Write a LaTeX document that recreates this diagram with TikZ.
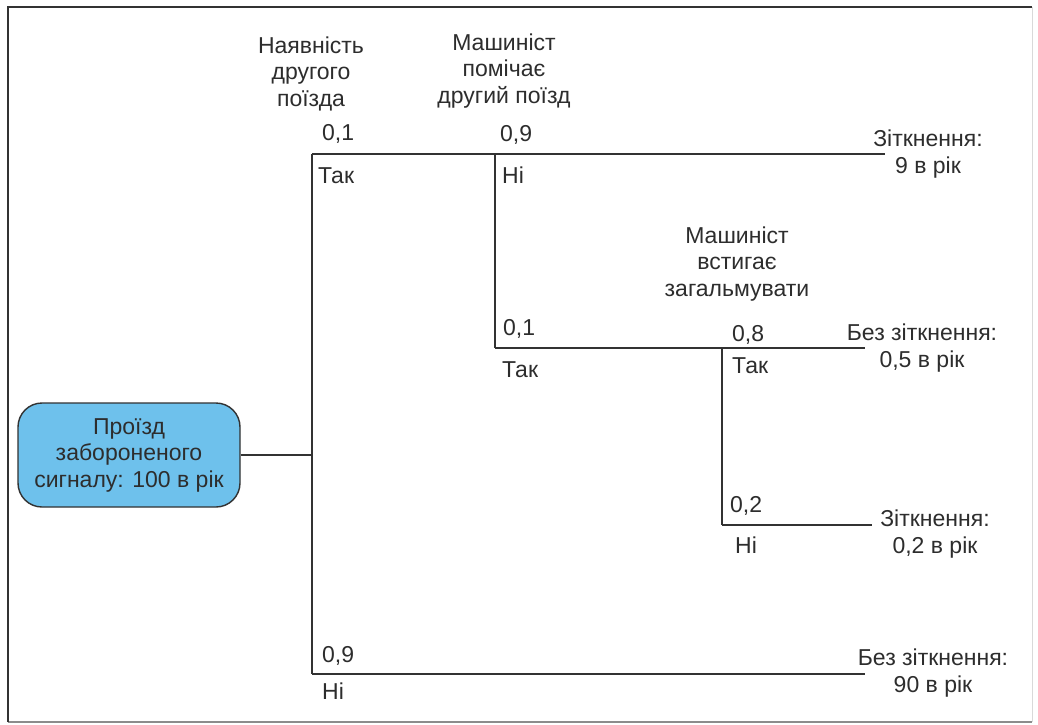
\documentclass[tikz,border=0pt]{standalone}
\usepackage{fontspec}
\setmainfont{Liberation Sans}
\begin{document}
\begin{tikzpicture}[x=1pt,y=-1pt,
  txt/.style={inner sep=0pt,text=ink,font=\fontsize{23}{26.5}\selectfont},
  lbl/.style={txt,anchor=base west},
  block/.style={txt,align=center,anchor=base},
  branch/.style={draw=wire,line width=1.8pt},
  rootbox/.style={draw=wire,line width=1.4pt,fill=signal,rounded corners=24pt,
    minimum width=222pt,minimum height=104pt,align=center,
    font=\fontsize{23}{26.5}\selectfont,text=ink,inner sep=0pt}]
\definecolor{ink}{RGB}{45,45,45}
\definecolor{wire}{RGB}{50,50,50}
\definecolor{signal}{RGB}{110,193,236}
\useasboundingbox (0,0) rectangle (1038,724);
\fill[white] (0,0) rectangle (1038,724);
% frame
\draw[draw=black!15,line width=0.8pt] (1032,7) -- (1032,722);
\draw[draw=black!45,line width=1.4pt] (8,722) -- (1032,722);
\draw[draw=black!80,line width=2.4pt] (8,722) -- (8,7) -- (1032,7);

% root event
\node[rootbox] (root) at (129,455) {Проїзд\\забороненого\\сигналу: 100 в рік};

% branching points and ends
\coordinate (j1) at (312,455);
\coordinate (a1) at (312,154);
\coordinate (b1) at (312,674);
\coordinate (e1) at (885,154);
\coordinate (a2) at (495,154);
\coordinate (b2) at (495,348);
\coordinate (e2) at (865,348);
\coordinate (a3) at (722,348);
\coordinate (b3) at (722,525);
\coordinate (e3) at (872,525);
\coordinate (e4) at (865,674);

\draw[branch] (root.east |- j1) -- (j1);
\draw[branch] (a1) -- (b1);
\draw[branch] (a1) -- (e1);
\draw[branch] (b1) -- (e4);
\draw[branch] (a2) -- (b2);
\draw[branch] (b2) -- (e2);
\draw[branch] (a3) -- (b3);
\draw[branch] (b3) -- (e3);

% column headings
\node[block] (h1) at (311,106) {Наявність\\другого\\поїзда};
\node[block] (h2) at (504,103) {Машиніст\\помічає\\другий поїзд};
\node[block] (h3) at (737,296) {Машиніст\\встигає\\загальмувати};

% probabilities and answers
\node[lbl] (p1) at (322,140) {0,1};
\node[lbl] (t1) at (318,183) {Так};
\node[lbl] (p2) at (500,141) {0,9};
\node[lbl] (n2) at (502,183) {Ні};
\node[lbl] (p3) at (503,335) {0,1};
\node[lbl] (t3) at (502,377) {Так};
\node[lbl] (p4) at (732,341) {0,8};
\node[lbl] (t4) at (732,373) {Так};
\node[lbl] (p5) at (730,512) {0,2};
\node[lbl] (n5) at (735,553) {Ні};
\node[lbl] (p6) at (322,662) {0,9};
\node[lbl] (n6) at (322,699) {Ні};

% outcomes
\node[block] (o1) at (928,173) {Зіткнення:\\9 в рік};
\node[block] (o2) at (922,367) {Без зіткнення:\\0,5 в рік};
\node[block] (o3) at (935,553) {Зіткнення:\\0,2 в рік};
\node[block] (o4) at (933,692) {Без зіткнення:\\90 в рік};
\end{tikzpicture}
\end{document}
